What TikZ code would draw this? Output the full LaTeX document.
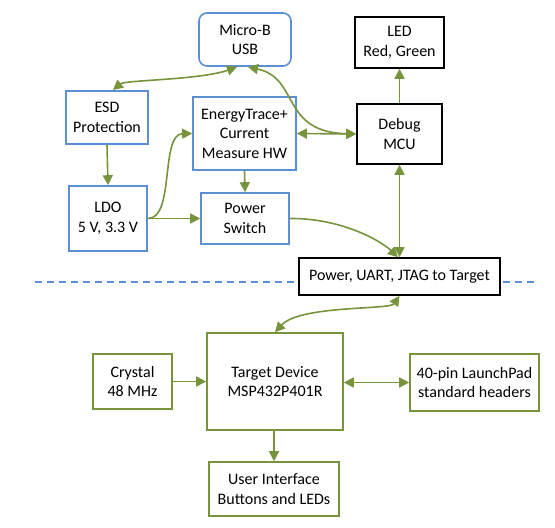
\documentclass[tikz,border=0pt]{standalone}
\usepackage{fontspec}
\setmainfont{Carlito}
\usetikzlibrary{arrows.meta}
\definecolor{lgreen}{HTML}{77933C}
\definecolor{lblue}{HTML}{5B8FD6}
\tikzset{
  box/.style={draw, line width=1.6pt, fill=white, align=center, inner sep=2pt,
    font=\fontsize{16}{19.5}\selectfont},
  bluebox/.style={box, draw=lblue},
  blackbox/.style={box, draw=black},
  greenbox/.style={box, draw=lgreen},
  conn/.style={draw=lgreen, line width=1.6pt, -{Triangle[length=10pt,width=10pt]}},
  dconn/.style={draw=lgreen, line width=1.6pt, {Triangle[length=10pt,width=10pt]}-{Triangle[length=10pt,width=10pt]}},
}
\begin{document}
\begin{tikzpicture}[x=1pt,y=-1pt]
\useasboundingbox (0,0) rectangle (555,528);
\draw[lblue, line width=1.3pt, dash pattern=on 7pt off 5pt] (35,282) -- (535,282);
\node[bluebox, rounded corners=8pt, minimum width=92pt, minimum height=53pt] (usb) at (245,39.5) {Micro-B\\USB};
\node[bluebox, minimum width=82pt, minimum height=53pt] (esd) at (107,117.5) {ESD\\Protection};
\node[bluebox, minimum width=103pt, minimum height=73pt] (et) at (244.5,133.5) {EnergyTrace+\\Current\\Measure HW};
\node[bluebox, minimum width=78pt, minimum height=65pt] (ldo) at (108,218.5) {LDO\\5 V, 3.3 V};
\node[bluebox, minimum width=88pt, minimum height=51pt] (psw) at (245,218.5) {Power\\Switch};
\node[blackbox, minimum width=89pt, minimum height=51pt] (led) at (399.5,42.5) {LED\\Red, Green};
\node[blackbox, minimum width=85pt, minimum height=60pt] (dbg) at (399.5,134) {Debug\\MCU};
\node[blackbox, minimum width=201pt, minimum height=37pt] (pujt) at (399.5,276.5) {Power, UART, JTAG to Target};
\node[greenbox, minimum width=79pt, minimum height=55pt] (crys) at (132.5,381.5) {Crystal\\48 MHz};
\node[greenbox, minimum width=136pt, minimum height=97pt] (tgt) at (275,381.5) {Target Device\\MSP432P401R};
\node[greenbox, minimum width=129pt, minimum height=57pt] (lp) at (474.5,382.5) {40-pin LaunchPad\\standard headers};
\node[greenbox, minimum width=130pt, minimum height=54pt] (ui) at (274,489) {User Interface\\Buttons and LEDs};
\coordinate (usbA) at (237,67);
\coordinate (usbB) at (248,67);
\coordinate (esdT) at (113,90);
% connectors
\draw[dconn] (esdT) .. controls (125,80) and (200,80) .. (usbA);
\draw[dconn] (usbB) .. controls (300,78) and (280,132) .. (dbg.west);
\draw[dconn] (et.east) -- (dbg.west);
\draw[conn] (esd.south) -- (ldo.north);
\draw[conn] (ldo.east) -- (psw.west);
\draw[conn] (ldo.east) .. controls (175,219) and (160,134) .. (et.west);
\draw[conn] (et.south) -- (psw.north);
\draw[conn] (psw.east) .. controls (340,218) and (380,240) .. (pujt.north -| 398,0);
\draw[dconn] (dbg.south) -- (pujt.north);
\draw[conn] (dbg.north) -- (led.south);
\draw[dconn] (pujt.south) .. controls (390,310) and (300,305) .. (tgt.north);
\draw[conn] (crys.east) -- (crys.east -| tgt.west);
\draw[dconn] (tgt.east |- lp.west) -- (lp.west);
\draw[conn] (tgt.south -| ui.north) -- (ui.north);
\end{tikzpicture}
\end{document}
